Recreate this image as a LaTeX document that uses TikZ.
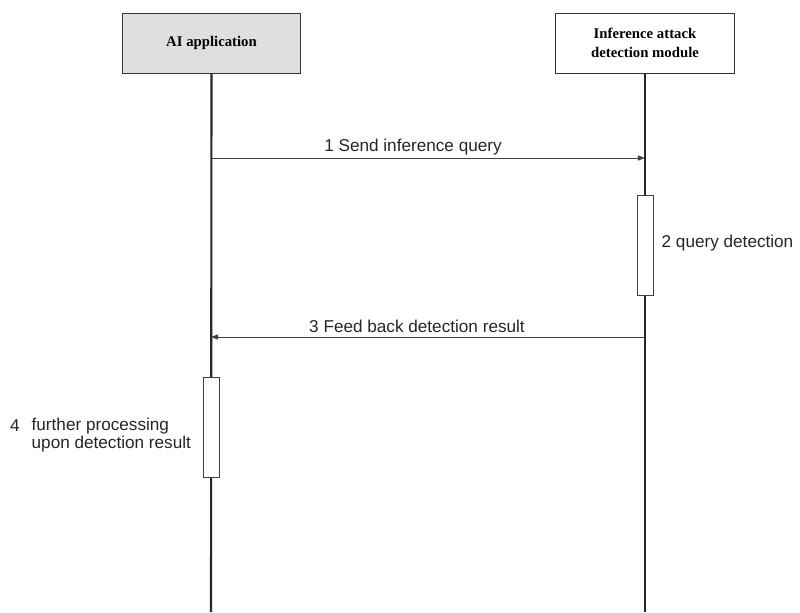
\documentclass[tikz,border=0pt]{standalone}
\usepackage{fontspec}
\setmainfont{Liberation Sans}
\newfontfamily\boxfont{Liberation Serif}
\usetikzlibrary{arrows.meta}
\begin{document}
\begin{tikzpicture}[x=0.025cm,y=-0.025cm,
  actor/.style={draw=black!80,line width=0.7pt,minimum width=4.45cm,minimum height=1.5cm,
    align=center,font=\boxfont\fontsize{10.5}{14}\selectfont\bfseries},
  life/.style={line width=1.5pt,black!85},
  actbox/.style={draw=black!75,line width=0.6pt,fill=white,minimum width=0.4cm,minimum height=2.5cm,inner sep=0pt},
  msgline/.style={line width=0.7pt,black!75,-{Triangle[length=5pt,width=3.6pt]}},
  msg/.style={font=\fontsize{12.2}{12.5}\selectfont,text=black!85,inner sep=1pt}]
\useasboundingbox (0,0) rectangle (800,612);
% participants
\node[actor,fill=gray!25] (app) at (211.5,43) {AI application};
\node[actor,fill=white] (mod) at (645,43) {Inference attack\\detection module};
\coordinate (append) at (211,612);
\coordinate (modend) at (645,612);
\draw[life] (app.south) -- (append);
\draw[life] (mod.south) -- (modend);
% activation bars
\node[actbox] (chk) at (645,245.5) {};
\node[actbox] (proc) at (211,427) {};
% messages
\coordinate (q1a) at (211,158);
\coordinate (q1b) at (645,158);
\draw[msgline] (q1a) -- (q1b);
\node[msg] (sendq) at (413,147) {1 Send inference query};
\node[msg,anchor=west] (detq) at (660,243.5) {2 query detection};
\coordinate (r3a) at (645,337);
\coordinate (r3b) at (211,337);
\draw[msgline] (r3a) -- (r3b);
\node[msg] (feedb) at (417,326) {3 Feed back detection result};
\node[msg] (num4) at (15,426) {4};
\node[msg,anchor=west,align=left] (furth) at (30,435) {further processing\\upon detection result};
\end{tikzpicture}
\end{document}
